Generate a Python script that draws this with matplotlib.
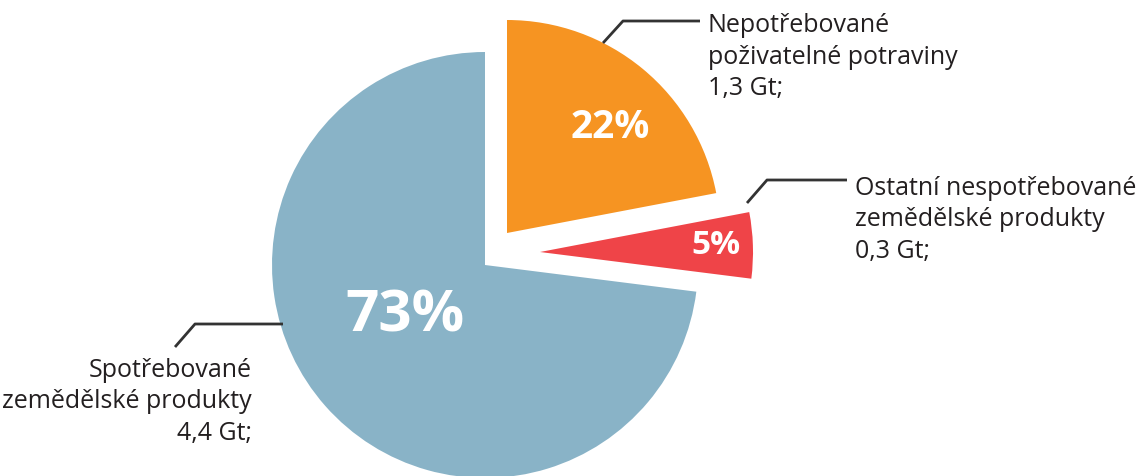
import matplotlib.pyplot as plt

# ========================== Data ==========================
shares = [22, 5, 73]                        # %
amounts = ["1,3 Gt;", "0,3 Gt;", "4,4 Gt;"]
names = ["Nepotřebované\npoživatelné potraviny",
         "Ostatní nespotřebované\nzemědělské produkty",
         "Spotřebované\nzemědělské produkty"]
colors = ["#f69422", "#ef4448", "#89b3c7"]
# ==========================================================

plt.rcParams['font.family'] = ['Open Sans', 'DejaVu Sans']
txt_col = "#231f20"

W, H = 1143, 476
fig = plt.figure(figsize=(W / 100, H / 100), dpi=100)
ax = fig.add_axes([0, 0, 1, 1])

center = (485, 211)
radius = 213
wedges, _ = ax.pie(shares, colors=colors, startangle=90,
                   counterclock=False, center=center, radius=radius,
                   frame=True, wedgeprops=dict(linewidth=0))
# pull the two small slices out (offsets in pixels)
offsets = [(22, 32), (55, 13), (0, 0)]
for w, (dx, dy) in zip(wedges, offsets):
    w.set_center((center[0] + dx, center[1] + dy))

ax.set_xlim(0, W)
ax.set_ylim(0, H)
ax.set_aspect("equal")
ax.axis("off")

# percentage labels inside the wedges
pct_pos = [(610, 348), (716, 231), (405, 160)]
pct_size = [28, 24, 42]
for v, (x, y), s in zip(shares, pct_pos, pct_size):
    ax.text(x, y, f"{v}%", color="white", fontsize=s, fontweight="bold",
            ha="center", va="center")

# outside labels with leader lines
lab_pos = [(708, H - 57, "left"), (855, H - 220, "left"), (252, H - 402, "right")]
leaders = [
    [(603, H - 43), (623, H - 21), (700, H - 21)],
    [(747, H - 203), (767, H - 180), (847, H - 180)],
    [(283, H - 324), (195, H - 324), (175, H - 347)],
]
for name, amt, (x, y, ha), pts in zip(names, amounts, lab_pos, leaders):
    ax.text(x, y, f"{name}\n{amt}", color=txt_col, fontsize=18,
            ha=ha, va="center", multialignment=ha, linespacing=1.32)
    xs, ys = zip(*pts)
    ax.plot(xs, ys, color="#333333", lw=2, solid_capstyle="butt")

plt.savefig("out.png", dpi=100)
